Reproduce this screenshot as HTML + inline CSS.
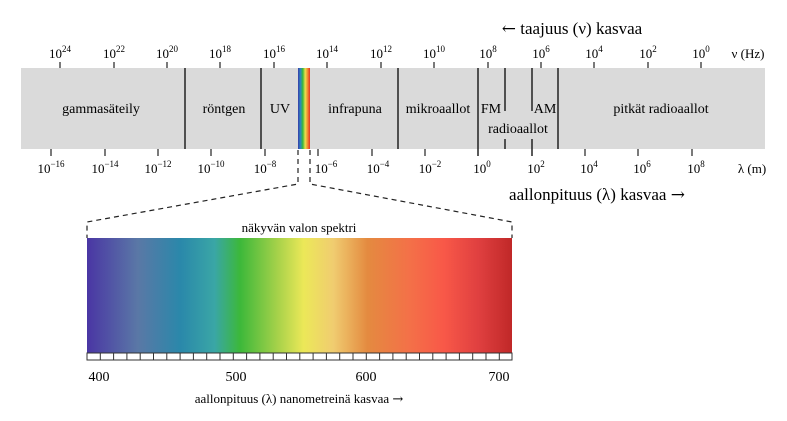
<!DOCTYPE html>
<html><head><meta charset="utf-8"><style>
body{margin:0;background:#fff;}
svg{display:block;font-family:"Liberation Serif",serif;}
.ar{font-family:"DejaVu Serif",serif;}
</style></head><body>
<svg width="787" height="421" viewBox="0 0 787 421" xmlns="http://www.w3.org/2000/svg">
<defs>
<linearGradient id="sp" x1="87" x2="512" y1="0" y2="0" gradientUnits="userSpaceOnUse">
<stop offset="0" stop-color="#4a36a4"/>
<stop offset="0.12" stop-color="#5a78a6"/>
<stop offset="0.22" stop-color="#2a88aa"/>
<stop offset="0.30" stop-color="#3aa6a6"/>
<stop offset="0.36" stop-color="#3cb83a"/>
<stop offset="0.45" stop-color="#a8d24a"/>
<stop offset="0.51" stop-color="#ece858"/>
<stop offset="0.58" stop-color="#f0cc70"/>
<stop offset="0.66" stop-color="#e48a40"/>
<stop offset="0.76" stop-color="#f47048"/>
<stop offset="0.84" stop-color="#f85848"/>
<stop offset="0.92" stop-color="#e04040"/>
<stop offset="1" stop-color="#c02828"/>
</linearGradient>
<linearGradient id="vis" x1="298" x2="310" y1="0" y2="0" gradientUnits="userSpaceOnUse">
<stop offset="0" stop-color="#3a3aa8"/><stop offset="0.2" stop-color="#2a88c0"/>
<stop offset="0.4" stop-color="#3cb83a"/><stop offset="0.6" stop-color="#e8e050"/>
<stop offset="0.8" stop-color="#f08a30"/><stop offset="1" stop-color="#e03028"/>
</linearGradient>
</defs>
<text x="572" y="34" font-size="17" text-anchor="middle"><tspan class="ar">←</tspan> taajuus (ν) kasvaa</text>
<rect x="21" y="68" width="744" height="81" fill="#dadada"/>
<rect x="298" y="68" width="12" height="81" fill="url(#vis)"/>
<g stroke="#222" stroke-width="1.5">
<line x1="185" y1="68" x2="185" y2="149"/><line x1="261" y1="68" x2="261" y2="149"/>
<line x1="398" y1="68" x2="398" y2="149"/><line x1="478" y1="68" x2="478" y2="156"/>
<line x1="558" y1="68" x2="558" y2="149"/>
<line x1="505" y1="68" x2="505" y2="111"/><line x1="505" y1="139" x2="505" y2="149"/>
<line x1="532" y1="68" x2="532" y2="111"/><line x1="532" y1="139" x2="532" y2="156"/>
</g>
<g stroke="#222" stroke-width="1.2">
<line x1="60" y1="62" x2="60" y2="68"/><line x1="114" y1="62" x2="114" y2="68"/><line x1="167" y1="62" x2="167" y2="68"/><line x1="220" y1="62" x2="220" y2="68"/><line x1="274" y1="62" x2="274" y2="68"/><line x1="327" y1="62" x2="327" y2="68"/><line x1="381" y1="62" x2="381" y2="68"/><line x1="434" y1="62" x2="434" y2="68"/><line x1="488" y1="62" x2="488" y2="68"/><line x1="541" y1="62" x2="541" y2="68"/><line x1="594" y1="62" x2="594" y2="68"/><line x1="648" y1="62" x2="648" y2="68"/><line x1="701" y1="62" x2="701" y2="68"/>
<line x1="51" y1="149" x2="51" y2="156"/><line x1="105" y1="149" x2="105" y2="156"/><line x1="158" y1="149" x2="158" y2="156"/><line x1="211" y1="149" x2="211" y2="156"/><line x1="265" y1="149" x2="265" y2="156"/><line x1="318" y1="149" x2="318" y2="156"/><line x1="372" y1="149" x2="372" y2="156"/><line x1="425" y1="149" x2="425" y2="156"/><line x1="585" y1="149" x2="585" y2="156"/><line x1="638" y1="149" x2="638" y2="156"/><line x1="692" y1="149" x2="692" y2="156"/>
</g>
<g font-size="13" text-anchor="middle">
<text x="60" y="58">10<tspan font-size="9" dy="-6">24</tspan></text>
<text x="114" y="58">10<tspan font-size="9" dy="-6">22</tspan></text>
<text x="167" y="58">10<tspan font-size="9" dy="-6">20</tspan></text>
<text x="220" y="58">10<tspan font-size="9" dy="-6">18</tspan></text>
<text x="274" y="58">10<tspan font-size="9" dy="-6">16</tspan></text>
<text x="327" y="58">10<tspan font-size="9" dy="-6">14</tspan></text>
<text x="381" y="58">10<tspan font-size="9" dy="-6">12</tspan></text>
<text x="434" y="58">10<tspan font-size="9" dy="-6">10</tspan></text>
<text x="488" y="58">10<tspan font-size="9" dy="-6">8</tspan></text>
<text x="541" y="58">10<tspan font-size="9" dy="-6">6</tspan></text>
<text x="594" y="58">10<tspan font-size="9" dy="-6">4</tspan></text>
<text x="648" y="58">10<tspan font-size="9" dy="-6">2</tspan></text>
<text x="701" y="58">10<tspan font-size="9" dy="-6">0</tspan></text>
<text x="748" y="58">ν (Hz)</text>
<text x="51" y="173">10<tspan font-size="9" dy="-6">−16</tspan></text>
<text x="105" y="173">10<tspan font-size="9" dy="-6">−14</tspan></text>
<text x="158" y="173">10<tspan font-size="9" dy="-6">−12</tspan></text>
<text x="211" y="173">10<tspan font-size="9" dy="-6">−10</tspan></text>
<text x="265" y="173">10<tspan font-size="9" dy="-6">−8</tspan></text>
<text x="326" y="173">10<tspan font-size="9" dy="-6">−6</tspan></text>
<text x="378" y="173">10<tspan font-size="9" dy="-6">−4</tspan></text>
<text x="430" y="173">10<tspan font-size="9" dy="-6">−2</tspan></text>
<text x="482" y="173">10<tspan font-size="9" dy="-6">0</tspan></text>
<text x="536" y="173">10<tspan font-size="9" dy="-6">2</tspan></text>
<text x="589" y="173">10<tspan font-size="9" dy="-6">4</tspan></text>
<text x="642" y="173">10<tspan font-size="9" dy="-6">6</tspan></text>
<text x="696" y="173">10<tspan font-size="9" dy="-6">8</tspan></text>
<text x="752" y="173">λ (m)</text>
</g>
<g font-size="14" text-anchor="middle">
<text x="101" y="113">gammasäteily</text>
<text x="224" y="113">röntgen</text>
<text x="280" y="113">UV</text>
<text x="355" y="113">infrapuna</text>
<text x="438" y="113">mikroaallot</text>
<text x="491" y="113">FM</text>
<text x="545" y="113">AM</text>
<text x="661" y="113">pitkät radioaallot</text>
<text x="518" y="133">radioaallot</text>
</g>
<text x="597" y="200" font-size="17" text-anchor="middle">aallonpituus (λ) kasvaa <tspan class="ar">→</tspan></text>
<g fill="none" stroke="#222" stroke-width="1.2" stroke-dasharray="5,4">
<polyline points="298,150 298,184 87,222 87,238"/>
<polyline points="310,150 310,184 512,222 512,238"/>
</g>
<text x="299" y="232" font-size="13" text-anchor="middle">näkyvän valon spektri</text>
<rect x="87" y="238" width="425" height="115" fill="url(#sp)"/>
<rect x="87" y="353" width="425" height="7" fill="#fff" stroke="#333" stroke-width="1"/>
<g stroke="#333" stroke-width="1">
<line x1="100.3" y1="353" x2="100.3" y2="360"/><line x1="113.6" y1="353" x2="113.6" y2="360"/><line x1="126.9" y1="353" x2="126.9" y2="360"/><line x1="140.2" y1="353" x2="140.2" y2="360"/><line x1="153.5" y1="353" x2="153.5" y2="360"/><line x1="166.8" y1="353" x2="166.8" y2="360"/><line x1="180.1" y1="353" x2="180.1" y2="360"/><line x1="193.4" y1="353" x2="193.4" y2="360"/><line x1="206.7" y1="353" x2="206.7" y2="360"/><line x1="220" y1="353" x2="220" y2="360"/><line x1="233.3" y1="353" x2="233.3" y2="360"/><line x1="246.6" y1="353" x2="246.6" y2="360"/><line x1="259.9" y1="353" x2="259.9" y2="360"/><line x1="273.2" y1="353" x2="273.2" y2="360"/><line x1="286.5" y1="353" x2="286.5" y2="360"/><line x1="299.8" y1="353" x2="299.8" y2="360"/><line x1="313.1" y1="353" x2="313.1" y2="360"/><line x1="326.4" y1="353" x2="326.4" y2="360"/><line x1="339.7" y1="353" x2="339.7" y2="360"/><line x1="353" y1="353" x2="353" y2="360"/><line x1="366.3" y1="353" x2="366.3" y2="360"/><line x1="379.6" y1="353" x2="379.6" y2="360"/><line x1="392.9" y1="353" x2="392.9" y2="360"/><line x1="406.2" y1="353" x2="406.2" y2="360"/><line x1="419.5" y1="353" x2="419.5" y2="360"/><line x1="432.8" y1="353" x2="432.8" y2="360"/><line x1="446.1" y1="353" x2="446.1" y2="360"/><line x1="459.4" y1="353" x2="459.4" y2="360"/><line x1="472.7" y1="353" x2="472.7" y2="360"/><line x1="486" y1="353" x2="486" y2="360"/><line x1="499.3" y1="353" x2="499.3" y2="360"/>
</g>
<g font-size="14" text-anchor="middle">
<text x="99" y="381">400</text><text x="236" y="381">500</text><text x="366" y="381">600</text><text x="499" y="381">700</text>
</g>
<text x="299" y="403" font-size="13" text-anchor="middle">aallonpituus (λ) nanometreinä kasvaa <tspan class="ar">→</tspan></text>
</svg>
</body></html>
